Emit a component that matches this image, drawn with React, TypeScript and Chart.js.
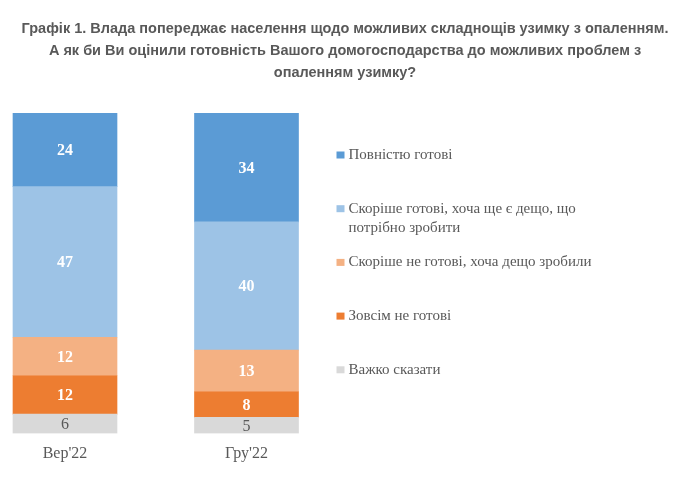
import React, { useEffect, useRef } from "react";
import { Chart, registerables } from "chart.js";

Chart.register(...registerables);

const categories = ["Вер'22", "Гру'22"];
const hardToSay = [6, 5];
const notReady = [12, 8];
const ratherNotReady = [12, 13];
const ratherReady = [47, 40];
const fullyReady = [24, 34];

const seriesNames = [
  "Важко сказати",
  "Зовсім не готові",
  "Скоріше не готові, хоча дещо зробили",
  ["Скоріше готові, хоча ще є дещо, що", "потрібно зробити"],
  "Повністю готові",
];
const seriesColors = ["#D9D9D9", "#ED7D31", "#F4B183", "#9DC3E6", "#5B9BD5"];
const titleLines = [
  "Графік 1. Влада попереджає населення щодо можливих складнощів узимку з опаленням.",
  "А як би Ви оцінили готовність Вашого домогосподарства до можливих проблем з",
  "опаленням узимку?",
];

const TEXT = "#595959";
const SERIF = "'Liberation Serif', 'DejaVu Serif', serif";

const labelPlugin = {
  id: "segLabels",
  afterDatasetsDraw(chart: any) {
    const ctx = chart.ctx;
    const area = chart.chartArea;
    ctx.save();
    ctx.textAlign = "center";
    ctx.textBaseline = "middle";
    chart.data.datasets.forEach((ds: any, di: number) => {
      const meta = chart.getDatasetMeta(di);
      meta.data.forEach((el: any, i: number) => {
        const top = Math.max(Math.min(el.y, el.base), area.top);
        const bot = Math.max(el.y, el.base);
        const cy = (top + bot) / 2;
        const grey = di === 0;
        ctx.fillStyle = grey ? TEXT : "#FFFFFF";
        ctx.font = `${grey ? "normal" : "bold"} 16px ${SERIF}`;
        ctx.fillText(String(ds.data[i]), el.x, cy + 1);
      });
    });
    ctx.restore();
  },
};

const legendPlugin = {
  id: "sideLegend",
  afterDraw(chart: any) {
    const ctx = chart.ctx;
    const area = chart.chartArea;
    const x0 = area.right + 90;
    const y0 = area.top + 42;
    const step = 53.7;
    const lh = 19;
    ctx.save();
    ctx.textAlign = "left";
    ctx.textBaseline = "middle";
    ctx.font = `15px ${SERIF}`;
    const ds = chart.data.datasets;
    for (let k = 0; k < ds.length; k++) {
      const d = ds[ds.length - 1 - k];
      const y = y0 + k * step;
      ctx.fillStyle = d.backgroundColor;
      ctx.fillRect(x0, y - 3.5, 8, 7);
      ctx.fillStyle = TEXT;
      const lines = Array.isArray(d.label) ? d.label : [d.label];
      lines.forEach((t: string, j: number) => ctx.fillText(t, x0 + 12, y + j * lh));
    }
    ctx.restore();
  },
};

const hiddenAxis = (pos: "left" | "right", w: number) => ({
  position: pos,
  display: true,
  grid: { display: false, drawTicks: false },
  border: { display: false },
  ticks: { display: false },
  afterFit: (s: any) => {
    s.width = w;
  },
});

export default function App() {
  const ref = useRef<HTMLCanvasElement>(null);
  useEffect(() => {
    if (!ref.current) return;
    const seriesData = [hardToSay, notReady, ratherNotReady, ratherReady, fullyReady];
    const chart = new Chart(ref.current, {
      type: "bar",
      data: {
        labels: categories,
        datasets: seriesData.map((d, i) => ({
          label: seriesNames[i] as any,
          data: d,
          backgroundColor: seriesColors[i],
          borderWidth: 0,
          barThickness: 104,
          clip: { left: false, right: false, top: 0, bottom: 0 } as any,
        })),
      },
      options: {
        animation: false,
        responsive: false,
        devicePixelRatio: 1,
        layout: { padding: { left: 0, right: 0, top: 0, bottom: 13.6 } },
        plugins: {
          legend: { display: false },
          tooltip: { enabled: false },
          title: {
            display: true,
            text: titleLines,
            color: TEXT,
            font: { family: "'Liberation Sans', Arial, sans-serif", size: 14.5, weight: "bold", lineHeight: 22 / 14.5 },
            padding: { top: 18, bottom: 29 },
          },
        },
        scales: {
          x: {
            stacked: true,
            offset: false,
            grid: { display: false, drawTicks: false },
            border: { display: false },
            ticks: { color: TEXT, font: { family: SERIF, size: 16 }, padding: 10.4 },
          },
          y: {
            stacked: true,
            min: 0,
            max: 100,
            ...hiddenAxis("left", 65),
          } as any,
          yRight: {
            min: 0,
            max: 100,
            ...hiddenAxis("right", 443.5),
          } as any,
        },
      },
      plugins: [labelPlugin, legendPlugin],
    });
    return () => chart.destroy();
  }, []);
  return (
    <div style={{ width: 690, height: 487 }}>
      <style>{"body{margin:0}"}</style>
      <canvas ref={ref} width={690} height={487} style={{ display: "block" }} />
    </div>
  );
}
